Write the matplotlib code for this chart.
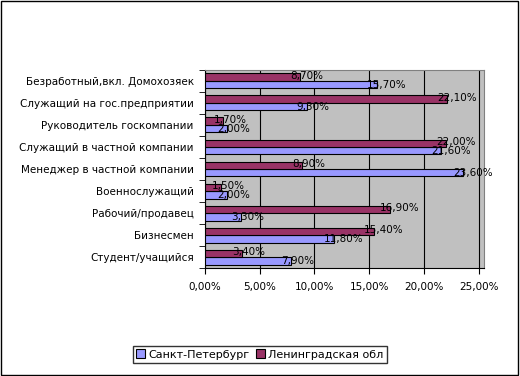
import numpy as np
import matplotlib.pyplot as plt
from matplotlib.patches import Rectangle

# categories top to bottom as in the chart
categories = ['Безработный,вкл. Домохозяек', 'Служащий на гос.предприятии',
              'Руководитель госкомпании', 'Служащий в частной компании',
              'Менеджер в частной компании', 'Военнослужащий',
              'Рабочий/продавец', 'Бизнесмен', 'Студент/учащийся']
spb = [15.7, 9.3, 2.0, 21.6, 23.6, 2.0, 3.3, 11.8, 7.9]
lenobl = [8.7, 22.1, 1.7, 22.0, 8.9, 1.5, 16.9, 15.4, 3.4]
xticks = [0, 5, 10, 15, 20, 25]

plt.rcParams['font.family'] = ['DejaVu Sans']

fig = plt.figure(figsize=(5.2, 3.76), dpi=100)
fig.patches.append(Rectangle((0.002, 0.003), 0.995, 0.994, transform=fig.transFigure,
                             fill=False, edgecolor='black', linewidth=1))

ax = fig.add_axes([0.394, 0.287, 0.537, 0.527])
ax.set_facecolor('#C0C0C0')

y = np.arange(len(categories))[::-1]
h = 0.34
ax.barh(y - h / 2, spb, height=h, color='#9999FF', edgecolor='black', linewidth=0.8,
        label='Санкт-Петербург', zorder=3)
ax.barh(y + h / 2, lenobl, height=h, color='#993366', edgecolor='black', linewidth=0.8,
        label='Ленинградская обл', zorder=3)

for yi, v in zip(y, spb):
    ax.text(v - 0.9, yi - h / 2, f'{v:.2f}%'.replace('.', ','), va='center', ha='left',
            fontsize=7.5, zorder=4)
for yi, v in zip(y, lenobl):
    ax.text(v - 0.9, yi + h / 2 + 0.05, f'{v:.2f}%'.replace('.', ','), va='center', ha='left',
            fontsize=7.5, zorder=4)

ax.set_xlim(0, 25.5)
ax.set_ylim(-0.5, len(categories) - 0.5)
ax.set_xticks(xticks)
ax.set_xticklabels([f'{t:.2f}%'.replace('.', ',') for t in xticks], fontsize=7.5)
ax.set_yticks(y)
ax.set_yticklabels(categories, fontsize=7.5)
ax.set_yticks(np.arange(len(categories) + 1) - 0.5, minor=True)
ax.tick_params(axis='y', which='major', length=0, pad=8)
ax.tick_params(axis='y', which='minor', length=4, direction='out')
ax.tick_params(axis='x', length=4, direction='out', pad=6)
ax.xaxis.grid(True, color='black', linewidth=0.8, zorder=0)
ax.set_axisbelow(True)
for s in ['top', 'right']:
    ax.spines[s].set_color('#808080')
ax.spines['left'].set_color('black')
ax.spines['bottom'].set_color('black')

fig.legend(loc='lower center', bbox_to_anchor=(0.5, 0.02), ncol=2, fontsize=8,
           frameon=True, fancybox=False, edgecolor='black', handlelength=0.8,
           handleheight=0.8, handletextpad=0.3, columnspacing=0.6, borderpad=0.3)

fig.savefig('out.png', dpi=100)
